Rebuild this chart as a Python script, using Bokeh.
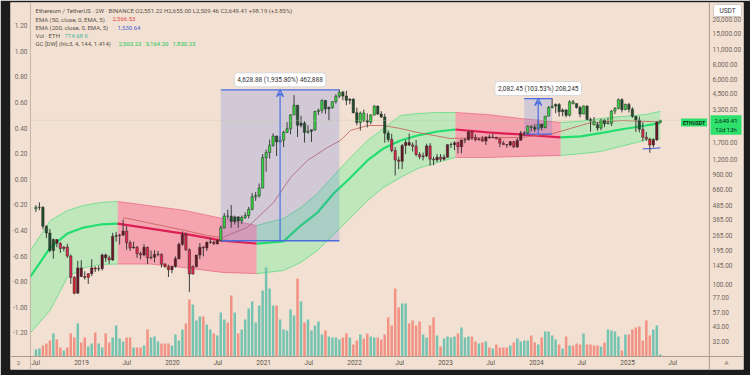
import numpy as np
import pandas as pd
from bokeh.plotting import figure
from bokeh.models import (Range1d, LinearAxis, LinearScale, FixedTicker, NumeralTickFormatter,
                          CustomJSTickFormatter, ColumnDataSource, Label, Arrow, VeeHead, Span)
from bokeh.embed import file_html
from bokeh.resources import INLINE

# ---------------- data (ETH/USDT, 2-week candles) ----------------
first_candle = "2018-07-02"
n_candles = 180

opens = [453, 466, 467, 320, 279, 197, 245, 227, 205, 211, 176, 115, 84,
         139, 117, 115, 124, 139, 136, 137, 180, 170, 163, 262, 265, 268, 290, 230, 207, 210, 185, 180, 210, 170, 172, 182, 183, 150, 142,
         134, 143, 167, 223, 270, 200, 123, 143, 180, 210, 207, 232, 233, 225, 240, 310, 392, 390, 352, 385, 355, 380, 396, 448, 575, 590,
         685, 1260, 1390, 1610, 1935, 1720, 1780, 2080, 2240, 2950, 3580, 2400, 2500, 2080, 2130, 2190, 3160, 3240, 3940, 3330, 3420, 3850, 4290, 4650, 4300, 3960,
         4050, 3080, 2540, 3060, 2630, 2560, 2940, 3520, 3000, 2830, 2050, 1810, 1450, 1200, 1170, 1600, 1700, 1620, 1580, 1340, 1280, 1300, 1590, 1220, 1200, 1270,
         1220, 1265, 1630, 1630, 1690, 1565, 1790, 1795, 2100, 1870, 1800, 1830, 1750, 1900, 1870, 1890, 1830, 1680, 1630, 1620, 1730, 1560, 1780, 2050, 2060, 2350,
         2300, 2220, 2460, 2290, 2880, 3420, 3520, 3640, 3150, 3260, 2930, 3830, 3700, 3420, 3000, 3530, 2690, 2620, 2430, 2270, 2660, 2470, 2500, 3190, 3360, 4000,
         3280, 3640, 3310, 2870, 2660, 2220, 1890, 1820, 1620, 1800, 2551.22]
highs = [487, 515, 475, 325, 302, 250, 246, 232, 215, 225, 182, 118, 160,
         162, 130, 125, 165, 143, 146, 185, 185, 178, 280, 285, 275, 365, 320, 240, 235, 215, 192, 223, 212, 197, 198, 195, 185, 153, 148,
         145, 175, 230, 288, 282, 205, 146, 180, 228, 215, 235, 252, 240, 245, 325, 415, 445, 488, 395, 390, 395, 420, 470, 620, 635, 750,
         1350, 1475, 1800, 2040, 1950, 1940, 2150, 2550, 3000, 4380, 3600, 2900, 2600, 2400, 2200, 3200, 3340, 4030, 3970, 3500, 3850, 4460, 4868, 4770, 4780, 4100,
         4100, 3410, 3160, 3280, 3040, 3000, 3580, 3550, 3180, 3020, 2160, 2020, 1550, 1280, 1650, 1790, 2030, 1700, 1790, 1400, 1390, 1660, 1680, 1280, 1350, 1350,
         1340, 1640, 1700, 1740, 1740, 1800, 1860, 2140, 2130, 2000, 1860, 1930, 1920, 1990, 2030, 1900, 1870, 1750, 1650, 1750, 1750, 1860, 2140, 2130, 2400, 2400,
         2450, 2720, 2460, 2880, 3520, 4094, 3700, 3730, 3360, 3300, 3950, 3980, 3700, 3530, 3560, 3560, 2800, 2830, 2550, 2730, 2700, 2770, 3250, 3450, 4090, 4110,
         3700, 3750, 3440, 2880, 2850, 2550, 2100, 1870, 1850, 2600, 2655.00]
lows = [425, 440, 300, 252, 190, 167, 210, 188, 194, 170, 101, 82, 83,
        116, 110, 101, 118, 128, 130, 132, 157, 151, 160, 235, 222, 262, 200, 195, 205, 170, 165, 175, 150, 165, 155, 175, 140, 140, 116,
        125, 140, 165, 215, 195, 86, 122, 140, 166, 175, 195, 225, 220, 222, 236, 305, 370, 310, 330, 310, 335, 370, 373, 440, 530, 565,
        680, 950, 1230, 1560, 1300, 1700, 1550, 2060, 2000, 2950, 1900, 2300, 1700, 2030, 1720, 2150, 2950, 3050, 3020, 2650, 3340, 3700, 4150, 3950, 3580, 3650,
        3050, 2400, 2160, 2560, 2300, 2450, 2930, 2950, 2780, 1700, 1720, 1400, 880, 1000, 1000, 1350, 1580, 1420, 1290, 1220, 1190, 1270, 1070, 1080, 1150, 1160,
        1190, 1260, 1520, 1460, 1370, 1370, 1680, 1780, 1790, 1740, 1760, 1720, 1620, 1840, 1860, 1820, 1550, 1620, 1530, 1570, 1520, 1530, 1770, 1930, 2010, 2120,
        2100, 2210, 2170, 2260, 2870, 3350, 3060, 2860, 2870, 2810, 2860, 3640, 3360, 2810, 2990, 2650, 2110, 2400, 2150, 2170, 2310, 2460, 2360, 3000, 3300, 3100,
        3240, 3100, 2780, 2100, 2080, 1750, 1760, 1385, 1540, 1750, 2509.46]
closes = [466, 467, 320, 279, 197, 245, 227, 205, 211, 176, 115, 84, 139,
          117, 115, 124, 139, 136, 137, 180, 170, 163, 262, 265, 268, 290, 230, 207, 210, 185, 180, 210, 170, 172, 182, 183, 150, 142, 134,
          143, 167, 223, 270, 200, 123, 143, 180, 210, 207, 232, 233, 225, 240, 310, 392, 390, 352, 385, 355, 380, 396, 448, 575, 590, 685,
          1260, 1390, 1610, 1935, 1720, 1780, 2080, 2240, 2950, 3580, 2400, 2500, 2080, 2130, 2190, 3160, 3240, 3940, 3330, 3420, 3850, 4290, 4650, 4300, 3960, 4050,
          3080, 2540, 3060, 2630, 2560, 2940, 3520, 3000, 2830, 2050, 1810, 1450, 1200, 1170, 1600, 1700, 1620, 1580, 1340, 1280, 1300, 1590, 1220, 1200, 1270, 1220,
          1265, 1630, 1630, 1690, 1565, 1790, 1795, 2100, 1870, 1800, 1830, 1750, 1900, 1870, 1890, 1830, 1680, 1630, 1620, 1730, 1560, 1780, 2050, 2060, 2350, 2300,
          2220, 2460, 2290, 2880, 3420, 3520, 3640, 3150, 3260, 2930, 3830, 3700, 3420, 3000, 3530, 2690, 2620, 2430, 2270, 2660, 2470, 2500, 3190, 3360, 4000, 3280,
          3640, 3310, 2870, 2660, 2220, 1890, 1820, 1620, 1800, 2551.22, 2649.41]
# volume, million ETH per 2-week bar
volume_m = [2.8, 3.2, 4.4, 5.2, 6.4, 9.2, 6.8, 3.6, 2.4, 3.6,
            9.2, 7.6, 13.2, 5.6, 7.6, 4.0, 5.2, 9.6, 5.2, 3.6,
            9.2, 5.6, 7.6, 12.4, 7.2, 6.0, 7.6, 7.6, 3.6, 3.6,
            3.6, 4.4, 10.8, 7.6, 8.0, 6.0, 5.2, 5.2, 5.2, 4.4,
            8.8, 6.4, 10.8, 13.2, 22.8, 20.8, 14.4, 16.0, 16.0, 12.8, 10.8,
            9.2, 8.4, 17.6, 14.8, 13.6, 24.4, 17.6, 9.2,
            10.8, 14.8, 19.2, 22.0, 13.6, 20.4, 26.4, 35.6, 27.2, 20.4,
            20.4, 14.8, 10.8, 10.4, 18.8, 16.4, 31.2, 22.0, 13.6, 14.8,
            10.4, 12.4, 14.0, 8.8, 10.4,
            8.0, 7.6, 7.6, 6.8, 7.6, 9.2, 7.6, 4.8, 6.4, 8.8,
            7.2, 9.2, 8.0, 7.6, 7.6, 6.8, 8.8, 15.6, 12.4, 27.2,
            19.6, 21.2, 21.2, 13.2, 14.4, 12.4, 14.0, 8.8, 7.6, 12.4, 15.6, 8.4,
            4.0, 7.2, 8.0, 7.6, 8.0, 9.2, 11.6, 7.6, 8.0, 8.0, 6.0, 5.2, 5.6, 6.0,
            3.6, 3.2, 4.8, 3.6, 3.6, 3.6,
            4.4, 5.6, 7.2, 6.0, 6.4, 6.4, 8.4, 5.6, 4.8, 7.6, 10.0, 10.0,
            8.4, 6.8, 4.8, 3.2, 8.0, 4.4, 4.4, 5.2, 4.8, 9.2, 4.8, 4.8, 4.4, 4.4, 4.0, 5.6,
            10.8, 10.4, 10.0, 8.0, 2.4, 8.8, 8.8, 10.8, 11.6, 12.0, 6.4, 14.4, 8.4, 10.8, 12.4, 0.77]

# Gaussian Channel [DW]
gc_dates = ["2018-06-10", "2018-08-29", "2018-11-05", "2019-01-09", "2019-03-18", "2019-05-26",
            "2019-10-05", "2020-02-14", "2020-07-20", "2020-12-04", "2021-03-22", "2021-05-30",
            "2021-08-05", "2021-10-09", "2021-12-16", "2022-02-22", "2022-04-27", "2022-07-04",
            "2022-09-11", "2022-11-30", "2023-02-10", "2023-06-19", "2023-10-29", "2024-04-07",
            "2024-06-26", "2024-09-14", "2024-12-04", "2025-03-14", "2025-05-12"]
gc_upper = [197, 358, 437, 483, 513, 524, 480, 440, 373, 324, 373, 464, 614, 880, 1262, 1771, 2249,
            2916, 3035, 3097, 3097, 2976, 2748, 2537, 2600, 2748, 2856, 2976, 3164.20]
gc_mid = [117, 209, 276, 311, 331, 337, 305, 276, 240, 226, 236, 324, 420, 614, 846, 1188, 1510,
          1771, 1958, 2119, 2206, 2079, 1997, 1881, 1920, 2050, 2206, 2388, 2503.23]
gc_lower = [38, 60, 115, 139, 149, 150, 150, 140, 127, 124, 132, 155, 197, 270, 380, 534, 694,
            846, 1012, 1141, 1262, 1262, 1286, 1313, 1360, 1420, 1574, 1780, 1830.23]
gc_rising = [True] * 5 + [False] * 4 + [True] * 11 + [False] * 3 + [True] * 6

ema50_dates = ["2019-06-18", "2019-10-05", "2020-02-22", "2020-05-21", "2020-07-20", "2020-10-28",
               "2020-12-08", "2021-02-10", "2021-04-19", "2021-06-26", "2021-09-14", "2021-11-05",
               "2021-12-16", "2022-02-22", "2022-04-27", "2022-07-04", "2022-09-11", "2023-01-21",
               "2023-06-19", "2023-10-29", "2024-03-08", "2024-07-24", "2024-12-04", "2025-05-12"]
ema50_values = [380, 339, 293, 265, 255, 313, 380, 513, 846, 1188, 1539, 1771, 2163, 2388, 2388,
                2249, 2079, 1843, 1881, 1881, 2038, 2486, 2641, 2566.53]
ema200_dates = ["2025-03-03", "2025-03-17", "2025-03-31", "2025-04-14", "2025-04-28", "2025-05-12"]
ema200_values = [1498, 1503, 1508, 1514, 1521, 1530.64]

measure_start = ["2020-07-13", "2023-11-13"]
measure_end = ["2021-11-01", "2024-03-04"]
measure_low = [239.12, 2011.40]
measure_high = [4868.00, 4093.85]
measure_text = ["4,628.88 (1,935.80%) 462,888", "2,082.45 (103.53%) 208,245"]

price_ticks = [32, 43, 57, 77, 100, 145, 195, 265, 365, 485, 660, 900, 1200, 1700,
               3300, 4500, 6000, 8000, 11000, 15000, 20000]
osc_ticks = [-1.2, -1.0, -0.8, -0.6, -0.4, -0.2, 0.0, 0.2, 0.4, 0.6, 0.8, 1.0, 1.2]
time_ticks = ["2018-07-01", "2019-01-01", "2019-07-01", "2020-01-01", "2020-07-01", "2021-01-01",
              "2021-07-01", "2022-01-01", "2022-07-01", "2023-01-01", "2023-07-01", "2024-01-01",
              "2024-07-01", "2025-01-01", "2025-07-01"]

last_price = 2649.41

# ---------------- styling ----------------
BG = "#f2e1d2"
DARK = "#1c1c1c"
AX = "#a99a8c"
TXT = "#6f655d"
FONT = "Roboto"
BLUE = "#4a6ee0"
DAY_MS = 86400000.0
PANE_LEFT = pd.Timestamp("2018-06-10")    # left price-scale separator
PANE_RIGHT = pd.Timestamp("2025-11-25")   # right price-scale separator

dates = pd.date_range(first_candle, periods=n_candles, freq="14D")
O = np.array(opens, float); H = np.array(highs, float)
L = np.array(lows, float); C = np.array(closes, float)

# frame covers the whole light panel (axes drawn inside it), dark border outside
p = figure(width=750, height=375, x_axis_type=None, y_axis_type="log", y_axis_location="right",
           x_range=Range1d(pd.Timestamp("2018-03-22"), pd.Timestamp("2026-04-11")),
           y_range=Range1d(18.28, 27860),
           output_backend="svg", toolbar_location=None,
           min_border_left=10, min_border_right=7, min_border_top=2, min_border_bottom=6,
           background_fill_color=BG, border_fill_color=DARK, outline_line_color=None)
p.grid.visible = False
p.extra_y_ranges = {"osc": Range1d(-1.4867, 1.3805), "vol": Range1d(-5.2, 141.6)}
p.extra_y_scales = {"osc": LinearScale(), "vol": LinearScale()}


def style_axis(ax, standoff):
    ax.major_tick_out = 0
    ax.major_tick_in = 0
    ax.minor_tick_out = 0
    ax.minor_tick_in = 0
    ax.major_label_standoff = standoff
    ax.axis_line_color = None
    ax.major_label_text_font = FONT
    ax.major_label_text_font_size = "6.5px"
    ax.major_label_text_color = TXT


ya = p.yaxis[0]
ya.ticker = FixedTicker(ticks=price_ticks)
ya.formatter = NumeralTickFormatter(format="0,0.00")
style_axis(ya, -31)

left = LinearAxis(y_range_name="osc", ticker=FixedTicker(ticks=osc_ticks),
                  formatter=CustomJSTickFormatter(code="return tick.toFixed(2);"))
style_axis(left, -17)
p.add_layout(left, "left")

tt = [float(v) for v in (pd.to_datetime(time_ticks).astype("int64") // 10**6)]
bottom = LinearAxis(ticker=FixedTicker(ticks=tt),
                    formatter=CustomJSTickFormatter(code="const d = new Date(tick); return d.getUTCMonth() == 6 ? 'Jul' : String(d.getUTCFullYear());"))
style_axis(bottom, -11)
bottom.major_label_text_color = "#5a514a"
p.add_layout(bottom, "below")

# pane separators
p.add_layout(Span(location=PANE_LEFT.value / 1e6, dimension="height", line_color="#c4b4a6", line_width=1))
p.add_layout(Span(location=PANE_RIGHT.value / 1e6, dimension="height", line_color=AX, line_width=1))
p.add_layout(Span(location=0, dimension="width", y_range_name="vol", line_color=AX, line_width=1))

# ---------------- Gaussian channel ----------------
gx = pd.to_datetime(gc_dates)
n = len(gx)
a = 0
for i in range(1, n):
    if i == n - 1 or gc_rising[i] != gc_rising[a]:
        sl = slice(a, i + 1)
        if gc_rising[a]:
            fc, lc, mc, fa = "#0aff68", "#1ed860", "#22de6e", 0.22
        else:
            fc, lc, mc, fa = "#ff0a5a", "#e8406a", "#dc1f55", 0.28
        xs = gx[sl]
        p.varea(x=xs, y1=gc_lower[sl], y2=gc_upper[sl], fill_color=fc, fill_alpha=fa)
        p.line(xs, gc_upper[sl], line_color=lc, line_alpha=0.5, line_width=1)
        p.line(xs, gc_lower[sl], line_color=lc, line_alpha=0.5, line_width=1)
        p.line(xs, gc_mid[sl], line_color=mc, line_width=2.2)
        a = i

# ---------------- volume ----------------
vcol = np.where(C >= O, "#6fc1af", "#f08d7f")
vsrc = ColumnDataSource(dict(x=dates, top=volume_m, color=vcol))
p.vbar(x="x", top="top", bottom=0, width=10 * DAY_MS, fill_color="color", line_color=None,
       fill_alpha=0.95, y_range_name="vol", source=vsrc)

# ---------------- EMAs ----------------
p.line(pd.to_datetime(ema50_dates), ema50_values, line_color="#c9605e", line_alpha=0.85, line_width=1)
p.line(pd.to_datetime(ema200_dates), ema200_values, line_color="#5b6fe0", line_width=1.2)

# ---------------- price range measurements ----------------
ms = pd.to_datetime(measure_start)
me = pd.to_datetime(measure_end)
p.quad(left=ms, right=me, bottom=measure_low, top=measure_high,
       fill_color="#5a78e0", fill_alpha=0.22, line_color=None)
p.segment(x0=ms, y0=measure_high, x1=me, y1=measure_high, line_color=BLUE, line_width=1.3)
p.segment(x0=ms, y0=measure_low, x1=me, y1=measure_low, line_color=BLUE, line_width=1.3)
for s, e, lo, hi, txt in zip(ms, me, measure_low, measure_high, measure_text):
    mid = (s.value + (e.value - s.value) / 2) / 1e6
    p.add_layout(Arrow(end=VeeHead(size=7, line_color=BLUE, line_width=1.2, fill_color=None),
                       x_start=mid, y_start=lo, x_end=mid, y_end=hi,
                       line_color=BLUE, line_width=1.2))
    p.add_layout(Label(x=mid, y=hi, y_offset=10, text=txt, text_align="center",
                       text_baseline="middle", text_font=FONT, text_font_size="6.5px",
                       text_color="#333333", background_fill_color="white",
                       background_fill_alpha=1, border_line_color="#d8d8d8",
                       padding=3, border_radius=3))

# ---------------- candles (GC bar colouring) ----------------
t_c = dates.values.astype("datetime64[ms]").astype("int64").astype(float)
t_g = gx.values.astype("datetime64[ms]").astype("int64").astype(float)
filt = 10 ** np.interp(t_c, t_g, np.log10(gc_mid))
hb = 10 ** np.interp(t_c, t_g, np.log10(gc_upper))
lb = 10 ** np.interp(t_c, t_g, np.log10(gc_lower))
src = (H + L + C) / 3
prev = np.r_[O[0], src[:-1]]
cols = []
for s_, sp, f, h_, l_ in zip(src, prev, filt, hb, lb):
    if s_ > sp and s_ > f and s_ < h_:
        c = "#3fd14a"
    elif s_ > sp and s_ >= h_:
        c = "#35d43f"
    elif s_ <= sp and s_ > f:
        c = "#1e4d2b"
    elif s_ < sp and s_ < f and s_ > l_:
        c = "#e0284e"
    elif s_ < sp and s_ <= l_:
        c = "#e0202a"
    elif s_ >= sp and s_ < f:
        c = "#6b1426"
    else:
        c = "#cccccc"
    cols.append(c)

csrc = ColumnDataSource(dict(x=dates, o=O, h=H, l=L, c=C, top=np.maximum(O, C),
                             bot=np.minimum(O, C), color=cols))
p.segment(x0="x", y0="l", x1="x", y1="h", line_color="#3d3d3d", line_width=1, source=csrc)
p.vbar(x="x", top="top", bottom="bot", width=9.5 * DAY_MS, fill_color="color",
       line_color="#2b2b2b", line_width=0.5, source=csrc)

# current price line (very faint, dotted) up to the symbol tag
p.segment(x0=[PANE_LEFT], y0=[last_price], x1=[pd.Timestamp("2025-07-31")], y1=[last_price],
          line_color="#b9cfa8", line_alpha=0.7, line_dash="1 1", line_width=1)

# ---------------- legend / tags (screen units, relative to frame) ----------------
FR_L, FR_B = 10, 369  # page px of frame left / bottom


def lab(txt, px, py, color, size="6px", bg=None, align="left", bold=False, pad=0,
        border=None, radius=0):
    kw = {}
    if bg is not None:
        kw = dict(background_fill_color=bg, background_fill_alpha=1, padding=pad,
                  border_radius=radius)
    if border is not None:
        kw["border_line_color"] = border
    p.add_layout(Label(x=px - FR_L, y=FR_B - py, x_units="screen", y_units="screen", text=txt,
                       text_font=FONT, text_font_size=size, text_color=color,
                       text_align=align, text_baseline="middle",
                       text_font_style="bold" if bold else "normal", **kw))


GRAY = "#5a524c"
lab("Ethereum / TetherUS · 2W · BINANCE   O2,551.22  H2,655.00  L2,509.46  C2,649.41  +98.19 (+3.85%)", 35, 10, GRAY)
lab("EMA (50, close, 0, EMA, 5)", 35, 18.5, GRAY)
lab("2,566.53", 112, 18.5, "#e2474f")
lab("EMA (200, close, 0, EMA, 5)", 35, 27, GRAY)
lab("1,530.64", 117, 27, "#4a62d8")
lab("Vol · ETH", 35, 35, GRAY)
lab("774.68 K", 64, 35, "#3fb4a0")
lab("GC [DW] (hlc3, 4, 144, 1.414)", 35, 43, GRAY)
lab("2,503.23", 118, 43, "#25c55a")
lab("3,164.20", 145, 43, "#25c55a")
lab("1,830.23", 172, 43, "#25c55a")

lab("ETHUSDT", 693.5, 122, "#0b2e14", size="5px", bg="#2ee06c", bold=True,
    pad=dict(x=2, y=1), align="center")
lab("2,649.41\n12d 13h", 725.5, 124.5, "#0b2e14", size="6px", bg="#2ee06c",
    pad=dict(x=4, y=2), align="center")
lab("USDT", 727, 10, "#333333", size="6.5px", bg="white", pad=dict(x=6, y=2), align="center",
    border="#d0c8c0", radius=2)
lab("2", 18, 362, TXT, size="6px", align="center")
lab("A", 726, 362, TXT, size="6px", align="center")

open("out.html", "w").write(file_html(p, INLINE, title="ETHUSDT 2W"))
